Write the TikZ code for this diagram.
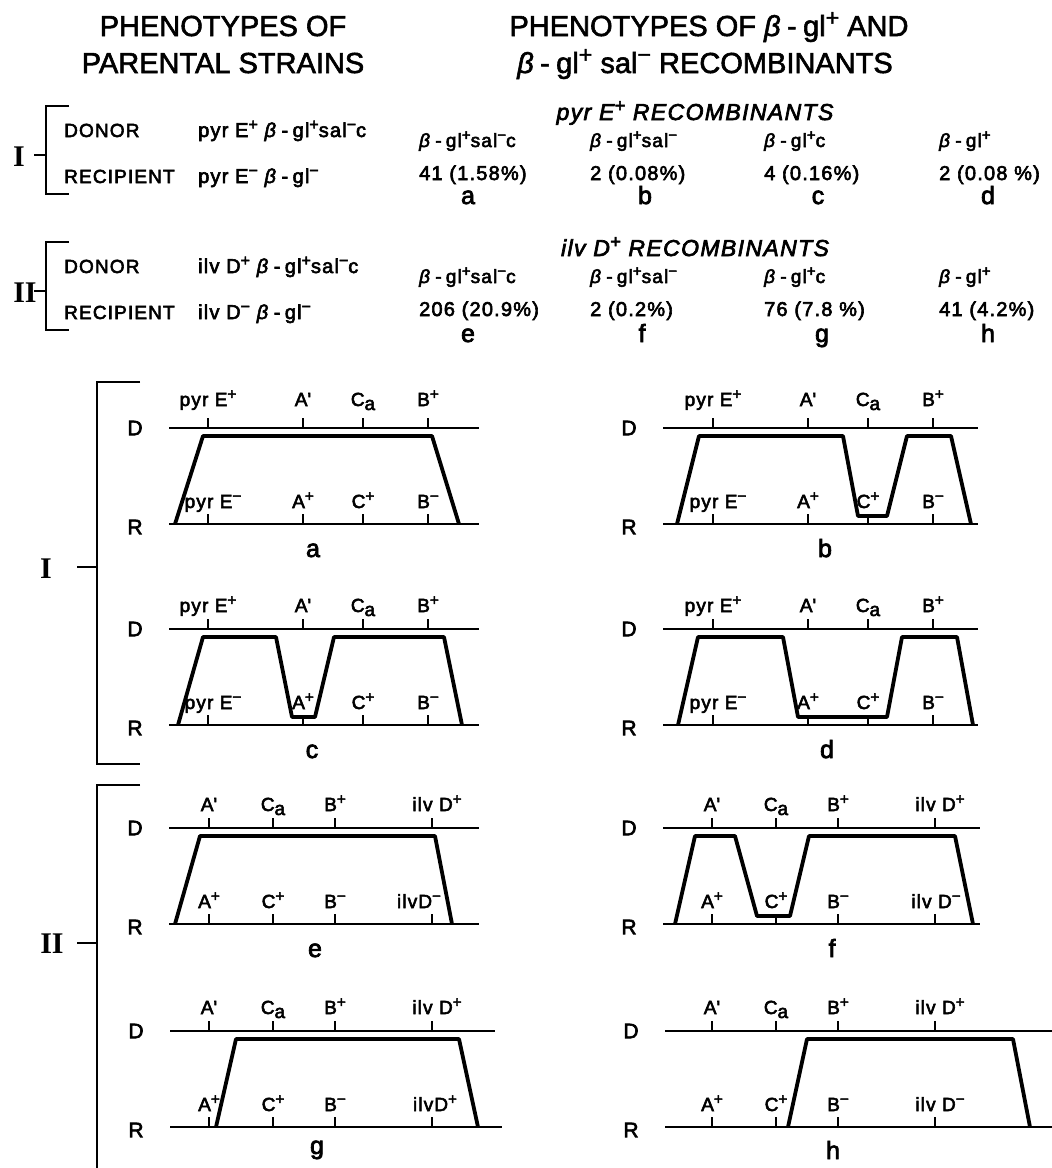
\documentclass[tikz,border=0pt]{standalone}
\usepackage{fontspec}
\setmainfont{Liberation Sans}[FakeBold=2]
\newfontfamily\spc{Liberation Sans}[FakeBold=3,LetterSpace=6]
\newfontfamily\romfont{Liberation Serif}
\newcommand{\supp}{\raisebox{.36em}{\scalebox{.8}{+}}}
\newcommand{\supm}{\raisebox{.36em}{\scalebox{.8}{−}}}
\newcommand{\bgl}{\textit{β}\hspace{0.22em}-\hspace{0.22em}gl}
\newcommand{\Ca}{C\raisebox{-4pt}{a}}
\newcommand{\Ap}{A\textquotesingle}
\newcommand{\fs}[1]{\fontsize{#1}{#1}\selectfont}

\begin{document}
\begin{tikzpicture}[x=1pt,y=-1pt,
    chrom/.style={line width=1.8pt},
    xover/.style={line width=3.8pt,line join=round},
    brak/.style={line width=2pt},
    head/.style={font=\fs{29},inner sep=0pt,anchor=base},
    txt/.style={font=\spc\fs{19},inner sep=0pt,anchor=base west},
    strain/.style={font=\spc\fs{20},inner sep=0pt,anchor=base west},
    rec/.style={font=\spc\fs{23}\itshape,inner sep=0pt,anchor=base},
    lbl/.style={font=\spc\fs{19},inner sep=0pt,anchor=base},
    side/.style={font=\spc\fs{21},inner sep=0pt},
    tag/.style={font=\spc\fs{25},inner sep=0pt,anchor=base},
    num/.style={font=\romfont\bfseries\fs{30},inner sep=0pt,anchor=base}]

    \useasboundingbox (0,0) rectangle (1052,1168);

    % Titles
    \node[head] (tl1) at (223,36) {PHENOTYPES OF};
    \node[head] (tl2) at (223,73) {PARENTAL STRAINS};
    \node[head] (tr1) at (709,36) {PHENOTYPES OF \bgl\supp{} AND};
    \node[head] (tr2) at (705,73) {\bgl\supp{} sal\supm{} RECOMBINANTS};

    % Crosses
    \foreach \n/\nx/\dy/\mk in {I/19/0/{pyr E},II/25/136/{ilv D}}{
        \begin{scope}[shift={(0,\dy)}]
            \node[num] (n\n) at (\nx,166) {\n};
            \draw[brak] (34,155) -- (46,155);
            \draw[brak] (69,106) -- (46,106) -- (46,194) -- (69,194);
            \node[txt] (don\n) at (64,137) {DONOR};
            \node[txt] (rcp\n) at (64,183) {RECIPIENT};
            \node[strain] (dstr\n) at (198,137) {\mk\supp{} \bgl\supp sal\supm c};
            \node[strain] (rstr\n) at (198,183) {\mk\supm{} \bgl\supm};
            \node[rec] (hd\n) at (695,120) {\mk\supp{} RECOMBINANTS};
            \foreach \x/\p in {419/{\bgl\supp sal\supm c},590/{\bgl\supp sal\supm},764/{\bgl\supp c},939/{\bgl\supp}}
                \node[txt] (ph\n\x) at (\x,147) {\p};
        \end{scope}}

    % Counts
    \foreach \x/\k/\t/\q in {419/468/a/{41 (1.58\%)},590/645/b/{2 (0.08\%)},764/818/c/{4 (0.16\%)},939/988/d/{2 (0.08 \%)}}{
        \node[strain] (cnt\t) at (\x,180) {\q};
        \node[tag] (hl\t) at (\k,204) {\t};}
    \foreach \x/\k/\t/\q in {419/468/e/{206 (20.9\%)},590/642/f/{2 (0.2\%)},764/822/g/{76 (7.8 \%)},939/988/h/{41 (4.2\%)}}{
        \node[strain] (cnt\t) at (\x,316) {\q};
        \node[tag] (hl\t) at (\k,342) {\t};}

    % Big brackets
    \draw[brak] (140,382) -- (97,382) -- (97,764) -- (140,764);
    \draw[brak] (77,567) -- (97,567);
    \node[num] (bI) at (46,578) {I};
    \draw[brak] (140,785) -- (97,785) -- (97,1168);
    \draw[brak] (77,943) -- (97,943);
    \node[num] (bII) at (52,953) {II};

    % Maps, cross I
    \foreach \n/\dy/\s/\xa/\xb/\ly in {a/428/0/169/479/22,b/428/505/663/978/22,c/629/0/169/479/17,d/629/505/663/978/17}{
        \begin{scope}[shift={(0,\dy)}]
            \node[side] (\n-D) at (\xa-34,0) {D};
            \node[side] (\n-R) at (\xa-34,99) {R};
            \draw[chrom] (\xa,0) -- (\xb,0) (\xa,96) -- (\xb,96);
            \foreach \x/\xr/\up/\lo in {208/213/{pyr E\supp}/{pyr E\supm},303/303/{\Ap}/{A\supp},363/363/{\Ca}/{C\supp},428/428/{B\supp}/{B\supm}}{
                \draw[chrom] (\x+\s,0) -- (\x+\s,-10) (\x+\s,96) -- (\x+\s,86);
                \node[lbl] (\n-u\x) at (\x+\s,-\ly) {\up};
                \node[lbl] (\n-l\x) at (\xr+\s,80) {\lo};}
        \end{scope}}

    % Maps, cross II
    \foreach \n/\dy/\s/\xa/\xb/\xc/\ix/\it in {e/828/0/169/479/479/419/{ilvD\supm},f/828/503/663/980/980/936/{ilv D\supm},g/1031/0/170/495/502/435/{ilvD\supp},h/1031/503/665/1052/1052/940/{ilv D\supm}}{
        \begin{scope}[shift={(0,\dy)}]
            \node[side] (\n-D) at (\xa-34,0) {D};
            \node[side] (\n-R) at (\xa-34,99) {R};
            \draw[chrom] (\xa,0) -- (\xb,0) (\xa,96) -- (\xc,96);
            \foreach \x/\up/\lo in {209/{\Ap}/{A\supp},273/{\Ca}/{C\supp},335/{B\supp}/{B\supm}}{
                \draw[chrom] (\x+\s,0) -- (\x+\s,-10) (\x+\s,96) -- (\x+\s,86);
                \node[lbl] (\n-u\x) at (\x+\s,-17) {\up};
                \node[lbl] (\n-l\x) at (\x+\s,80) {\lo};}
            \draw[chrom] (432+\s,0) -- (432+\s,-10) (432+\s,96) -- (432+\s,86);
            \node[lbl] (\n-u432) at (437+\s,-17) {ilv D\supp};
            \node[lbl] (\n-l432) at (\ix,80) {\it};
        \end{scope}}

    % Crossovers
    \draw[xover] (175,524) -- (203,436) -- (432,436) -- (459,524);
    \draw[xover] (677,524) -- (699,436) -- (843,436) -- (858,516) -- (887,516) -- (907,436) -- (951,436) -- (971,524);
    \draw[xover] (178,725) -- (203,637) -- (276,637) -- (292,717) -- (315,717) -- (334,637) -- (444,637) -- (462,725);
    \draw[xover] (678,725) -- (698,637) -- (783,637) -- (798,717) -- (887,717) -- (902,637) -- (957,637) -- (973,725);
    \draw[xover] (175,924) -- (200,836) -- (435,836) -- (452,924);
    \draw[xover] (675,924) -- (695,836) -- (735,836) -- (757,916) -- (790,916) -- (809,836) -- (955,836) -- (973,924);
    \draw[xover] (216,1127) -- (236,1039) -- (459,1039) -- (478,1127);
    \draw[xover] (788,1127) -- (807,1039) -- (1013,1039) -- (1030,1127);

    % Map letters
    \foreach \t/\x/\y in {a/313/557,b/825/557,c/312/758,d/827/758,e/315/957,f/832/957,g/317/1154,h/833/1159}
        \node[tag] (ml\t) at (\x,\y) {\t};
\end{tikzpicture}
\end{document}
